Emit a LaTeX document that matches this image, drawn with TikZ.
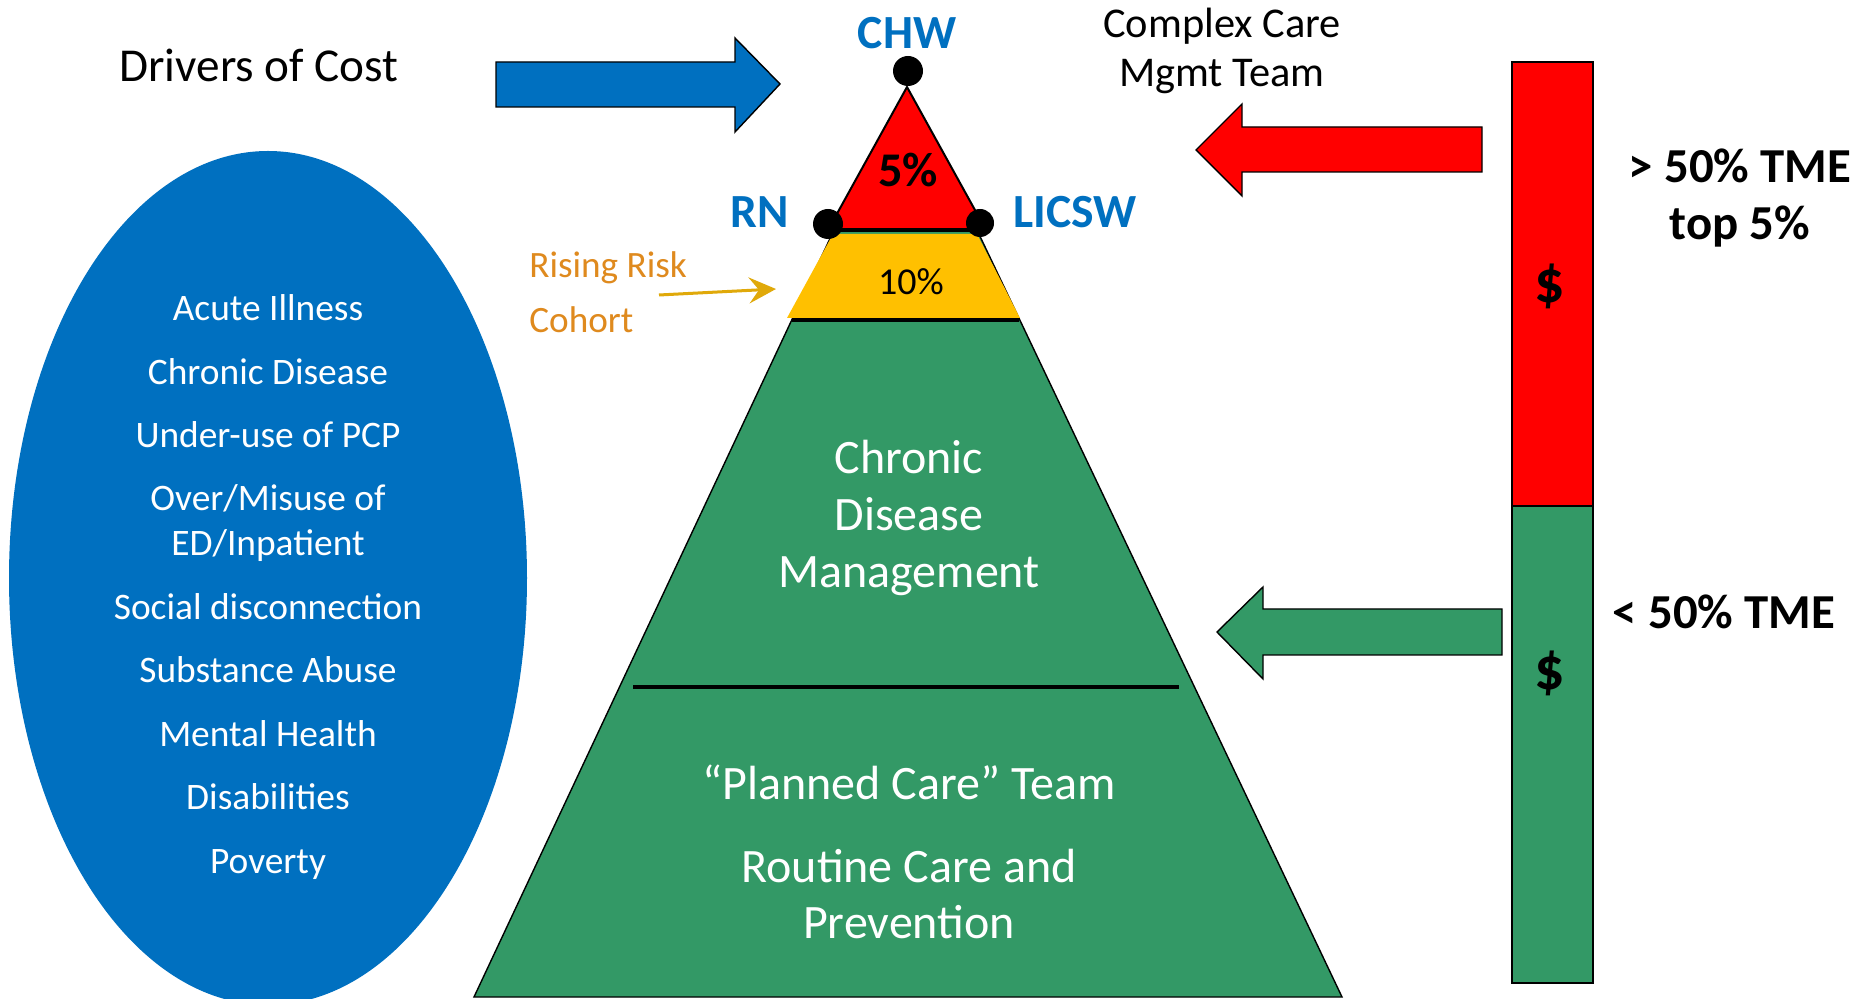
\documentclass[tikz,border=0pt]{standalone}
\usepackage{fontspec}
\setmainfont{Carlito}
\usetikzlibrary{arrows.meta}
\definecolor{cblue}{HTML}{0070C0}
\definecolor{cred}{HTML}{FF0000}
\definecolor{cgreen}{HTML}{339966}
\definecolor{cyellow}{HTML}{FFC000}
\definecolor{corange}{HTML}{DF8A1E}
\definecolor{cgold}{HTML}{E0A90A}
\tikzset{
  fs/.style={font=\fontsize{#1}{#1}\selectfont},
  fsb/.style={font=\bfseries\fontsize{#1}{#1}\selectfont},
  shapeline/.style={draw=black, line width=0.7pt, line join=miter},
  ttl/.style={anchor=base, inner sep=0pt},
  elltext/.style={ttl, text=white, fs=18.7pt},
  pyrtext/.style={ttl, text=white, fs=24pt},
  bluelabel/.style={ttl, text=cblue, fsb=23.8pt},
  tmelabel/.style={ttl, fsb=24.4pt},
  dollar/.style={inner sep=0pt, fsb=30pt},
  dot/.style={fill=black},
}
\begin{document}
\begin{tikzpicture}[x=0.5pt,y=-0.5pt]
\useasboundingbox (0,0) rectangle (1860,999);
\fill[white] (0,0) rectangle (1860,999);

% ellipse of drivers
\fill[cblue] (268,578) ellipse [x radius=259, y radius=427];
\node[elltext] (e1) at (268,321) {Acute Illness};
\node[elltext] (e2) at (268,384.5) {Chronic Disease};
\node[elltext] (e3) at (268,448) {Under-use of PCP};
\node[elltext] (e4) at (268,511) {Over/Misuse of};
\node[elltext] (e5) at (268,556) {ED/Inpatient};
\node[elltext] (e6) at (268,619.5) {Social disconnection};
\node[elltext] (e7) at (268,683) {Substance Abuse};
\node[elltext] (e8) at (268,746.5) {Mental Health};
\node[elltext] (e9) at (268,810) {Disabilities};
\node[elltext] (e10) at (268,873.5) {Poverty};

\node[ttl, fs=23.6pt] (drivers) at (259,82) {Drivers of Cost};

% block arrows
\filldraw[fill=cblue, shapeline] (496,62) -- (735,62) -- (735,38) -- (780,84) -- (735,132) -- (735,107) -- (496,107) -- cycle;
\filldraw[fill=cred, shapeline] (1482,127) -- (1242,127) -- (1242,104) -- (1196,150) -- (1242,196) -- (1242,172) -- (1482,172) -- cycle;
\filldraw[fill=cgreen, shapeline] (1502,609) -- (1263,609) -- (1263,587) -- (1217,632) -- (1263,679) -- (1263,655) -- (1502,655) -- cycle;

% cost bar
\filldraw[fill=cred, shapeline] (1512,62) rectangle (1593,506);
\filldraw[fill=cgreen, shapeline] (1512,506) rectangle (1593,983);
\node[dollar] (d1) at (1550,286) {\$};
\node[dollar] (d2) at (1550,673) {\$};

\node[tmelabel] (tme1) at (1740,183) {> 50\% TME};
\node[tmelabel] (tme2) at (1740,240) {top 5\%};
\node[tmelabel] (tme3) at (1724,629) {< 50\% TME};

\node[ttl, fs=21.2pt] (cc1) at (1222,38) {Complex Care};
\node[ttl, fs=21.2pt] (cc2) at (1222,87) {Mgmt Team};

% pyramid
\filldraw[fill=cgreen, shapeline] (474,997) -- (1342,997) -- (977,230) -- (834,230) -- cycle;
\fill[cyellow] (833,234) -- (977,234) -- (1020,318) -- (787,318) -- cycle;
\draw[line width=1.6pt] (792,320) -- (1019,320);
\draw[line width=2pt] (633,687) -- (1179,687);
\filldraw[fill=cred, draw=black, line width=1pt, line join=miter] (828,230) -- (986,230) -- (907,87) -- cycle;
\draw[line width=2pt] (828,230) -- (984,230);

\fill[dot] (908,71) circle [radius=15];
\fill[dot] (828,224) circle [radius=15];
\fill[dot] (980,223) circle [radius=14];

\node[bluelabel] (chw) at (907,49) {CHW};
\node[bluelabel] (rn) at (760,228) {RN};
\node[bluelabel] (licsw) at (1075,228) {LICSW};

\node[ttl, fsb=24.2pt] (p5) at (908,187) {5\%};
\node[ttl, fs=19pt] (p10) at (911,295) {10\%};

\node[pyrtext] (cdm1) at (909,474) {Chronic};
\node[pyrtext] (cdm2) at (909,531) {Disease};
\node[pyrtext] (cdm3) at (909,588) {Management};
\node[pyrtext] (pc1) at (909,800) {“Planned Care” Team};
\node[pyrtext] (pc2) at (909,883) {Routine Care and};
\node[pyrtext] (pc3) at (909,939) {Prevention};

% rising risk
\node[ttl, anchor=base west, text=corange, fs=18.6pt] (rr1) at (529,278) {Rising Risk};
\node[ttl, anchor=base west, text=corange, fs=18.6pt] (rr2) at (529,333) {Cohort};
\coordinate (rrs) at (659,295);
\coordinate (rre) at (776,289);
\draw[cgold, line width=1.5pt, -{Stealth[length=13.5pt, width=13pt, inset=5pt]}] (rrs) -- (rre);
\end{tikzpicture}
\end{document}
